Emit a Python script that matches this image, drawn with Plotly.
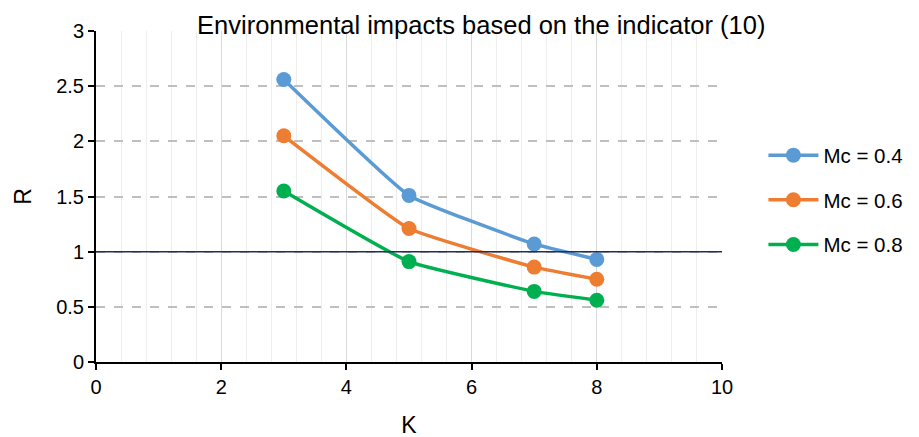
import plotly.graph_objects as go

K = [3, 5, 7, 8]
r_04 = [2.56, 1.51, 1.07, 0.93]
r_06 = [2.05, 1.21, 0.86, 0.75]
r_08 = [1.55, 0.91, 0.64, 0.56]
series_names = ["Mc = 0.4", "Mc = 0.6", "Mc = 0.8"]
colors = ["#5B9BD5", "#ED7D31", "#00B050"]
threshold = 1

fig = go.Figure()
for name, vals, c in zip(series_names, [r_04, r_06, r_08], colors):
    fig.add_trace(go.Scatter(
        x=K, y=vals, name=name, mode="lines+markers", legendgroup=name,
        line=dict(color=c, width=3.5, shape="spline", smoothing=0.35),
        marker=dict(color=c, size=15),
    ))

fig.add_shape(type="line", xref="paper", x0=0, x1=1, yref="y", y0=threshold, y1=threshold,
              line=dict(color="#1F2F5C", width=1.5), layer="above")

font = "Liberation Sans, Arial, sans-serif"
fig.update_layout(
    width=919, height=437,
    margin=dict(l=88, r=205, t=23, b=83, autoexpand=False),
    paper_bgcolor="white", plot_bgcolor="white",
    font=dict(family=font, size=20, color="#000000"),
    title=dict(text="Environmental impacts based on the indicator (10)", x=0.515, xanchor="center",
               y=0.962, yanchor="middle", font=dict(size=25.5, family=font, color="#000")),
    legend=dict(x=0.822, xref="container", y=0.49, xanchor="left", yanchor="middle",
                font=dict(size=20.5, family=font), itemwidth=50, tracegroupgap=15),
    showlegend=True,
)
fig.update_xaxes(
    range=[0, 10], dtick=2, tick0=0, showline=True, linecolor="#000", linewidth=2,
    ticks="outside", ticklen=6, tickcolor="#000", tickwidth=2,
    showgrid=True, gridcolor="#D9D9D9", gridwidth=1,
    minor=dict(dtick=0.4, tick0=0, showgrid=True, gridcolor="#EDEDED", gridwidth=1),
    zeroline=False, title=dict(text="K", font=dict(size=23), standoff=20),
)
fig.update_yaxes(
    range=[0, 3], dtick=0.5, tick0=0, showline=True, linecolor="#000", linewidth=2,
    ticks="outside", ticklen=6, tickcolor="#000", tickwidth=2,
    showgrid=True, gridcolor="#BFBFBF", gridwidth=1.5, griddash="dash",
    zeroline=False, title=dict(text="R", font=dict(size=23), standoff=18),
)

fig.write_html("out.html")
